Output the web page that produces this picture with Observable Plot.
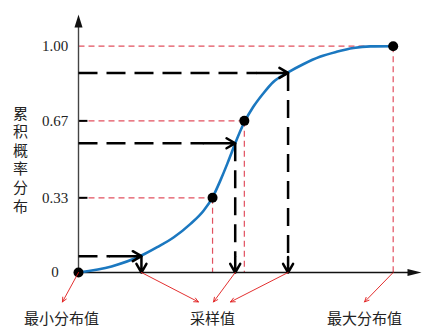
<!DOCTYPE html>
<html><head><meta charset="utf-8">
<script src="https://cdn.jsdelivr.net/npm/d3@7"></script>
<script src="https://cdn.jsdelivr.net/npm/@observablehq/plot@0.6"></script>
<style>body{margin:0;background:#fff}#chart svg{display:block}</style>
</head><body><div id="chart"></div>
<script>
// CDF curve (x in arbitrary units, p = cumulative probability)
const cdfX = [0, 1.05, 2.0, 2.50, 3.03, 3.56, 3.98, 4.26, 4.51, 4.73, 4.88, 4.98, 5.27, 5.55, 5.87, 6.19, 6.66, 7.14, 7.67, 8.20, 8.74, 9.28, 10];
const cdfP = [0, 0.027, 0.075, 0.112, 0.156, 0.215, 0.274, 0.332, 0.407, 0.481, 0.535, 0.571, 0.664, 0.731, 0.791, 0.842, 0.884, 0.920, 0.953, 0.975, 0.992, 0.999, 1.0];
// stratum boundaries (black dots)
const markerX = [0, 4.26, 5.27, 10];
const markerP = [0, 0.33, 0.67, 1];
// sampled probabilities and resulting sample values
const sampleP = [0.072, 0.571, 0.882];
const sampleX = [2.0, 4.98, 6.66];
// y axis ticks
const tickValues = [0, 0.33, 0.67, 1];
const tickLabels = ["0", "0.33", "0.67", "1.00"];
const yTitle = "累积概率分布";
// bottom annotations
const bottomLabels = ["最小分布值", "采样值", "最大分布值"];
const bottomLabelX = [-0.54, 4.26, 9.09];
const pointerFromX = [0, 2.0, 4.98, 6.66, 10];
const pointerToX = [-0.51, 3.81, 4.29, 4.83, 9.09];

const cdf = cdfX.map((x, i) => ({x, p: cdfP[i]}));
const markers = markerX.map((x, i) => ({x, p: markerP[i]}));
const guides = markers.slice(1);
const samples = sampleX.map((x, i) => ({x, p: sampleP[i]}));
const labels = bottomLabels.map((t, i) => ({t, x: bottomLabelX[i]}));
const pointers = pointerFromX.map((x, i) => ({x1: x, x2: pointerToX[i]}));

const red = "#e2505f";
const blue = "#1b78c0";
const cjk = "'Noto Sans CJK SC', sans-serif";
const serif = "'Liberation Serif', 'DejaVu Serif', serif";

const chart = Plot.plot({
  width: 428, height: 333,
  marginLeft: 78, marginRight: 7, marginTop: 14, marginBottom: 61,
  x: {domain: [0, 10.9], axis: null},
  y: {domain: [0, 1.14], axis: null},
  style: {background: "#fff", fontFamily: cjk, overflow: "visible"},
  marks: [
    // red dashed guide lines
    Plot.link(guides, {x1: 0, x2: "x", y1: "p", y2: "p", stroke: red, strokeWidth: 1.2, strokeDasharray: "6,4"}),
    Plot.link(guides, {x1: "x", x2: "x", y1: "p", y2: 0, stroke: red, strokeWidth: 1.2, strokeDasharray: "6,4"}),
    // small black ticks on y axis
    Plot.ruleY(tickValues.slice(1, 3), {x1: 0, x2: 0.3, stroke: "#000", strokeWidth: 2}),
    // axes
    Plot.ruleX([0], {y1: 0, y2: 1.1, stroke: "#444", strokeWidth: 1.4}),
    Plot.ruleY([0], {x1: 0, x2: 10.6, stroke: "#111", strokeWidth: 1.3}),
    Plot.vector([0], {x: 0, y: 1.14, length: 13, rotate: 0, shape: "spike", anchor: "end", r: 4, fill: "#111", stroke: "none"}),
    Plot.vector([0], {x: 10.9, y: 0, length: 14, rotate: 90, shape: "spike", anchor: "end", r: 3.5, fill: "#111", stroke: "none"}),
    Plot.axisY(tickValues, {tickSize: 0, tickPadding: 23.5, textAnchor: "middle", fontSize: 15, fontFamily: serif, fill: "#222",
      tickFormat: d => tickLabels[tickValues.indexOf(d)], label: null}),
    // CDF curve
    Plot.line(cdf, {x: "x", y: "p", curve: "monotone-x", stroke: blue, strokeWidth: 2.6}),
    // black dashed sampling arrows: horizontal
    Plot.link(samples, {x1: 0, x2: d => d.x - 1.0, y1: "p", y2: "p", stroke: "#000", strokeWidth: 2.5, strokeDasharray: "19,9"}),
    Plot.arrow(samples, {x1: d => d.x - 1.0, x2: "x", y1: "p", y2: "p", stroke: "#000", strokeWidth: 2.5, headLength: 6, headAngle: 60}),
    // vertical
    Plot.link(samples, {x1: "x", x2: "x", y1: "p", y2: 0.07, stroke: "#000", strokeWidth: 2.5, strokeDasharray: "18,9"}),
    Plot.arrow(samples, {x1: "x", x2: "x", y1: d => Math.min(d.p, 0.07) + 0.065, y2: 0, insetStart: 15, stroke: "#000", strokeWidth: 2.5, headLength: 6, headAngle: 60}),
    // dots
    Plot.dot(markers, {x: "x", y: "p", r: 5, fill: "#000"}),
    // red pointer arrows
    Plot.arrow(pointers, {x1: "x1", x2: "x2", y1: 0, y2: -0.13, stroke: "#e01818", strokeWidth: 0.9, headLength: 8, headAngle: 50}),
    // texts
    Plot.text(labels, {x: "x", y: -0.205, text: "t", fontSize: 15, fill: "#222", fontFamily: cjk}),
    Plot.text([yTitle], {x: -1.84, y: 0.5, text: d => d, fontSize: 15, lineAnchor: "bottom", fill: "#222", fontFamily: cjk})
  ]
});
// set the y title in vertical writing mode (characters stacked top to bottom, 18px apart)
d3.select(chart).selectAll("text")
  .filter(function() { return this.textContent === yTitle; })
  .attr("writing-mode", "vertical-rl")
  .style("writing-mode", "vertical-rl")
  .attr("text-anchor", "middle")
  .attr("textLength", 18 * yTitle.length)
  .attr("lengthAdjust", "spacing");
document.getElementById("chart").appendChild(chart);
</script>
</body></html>
